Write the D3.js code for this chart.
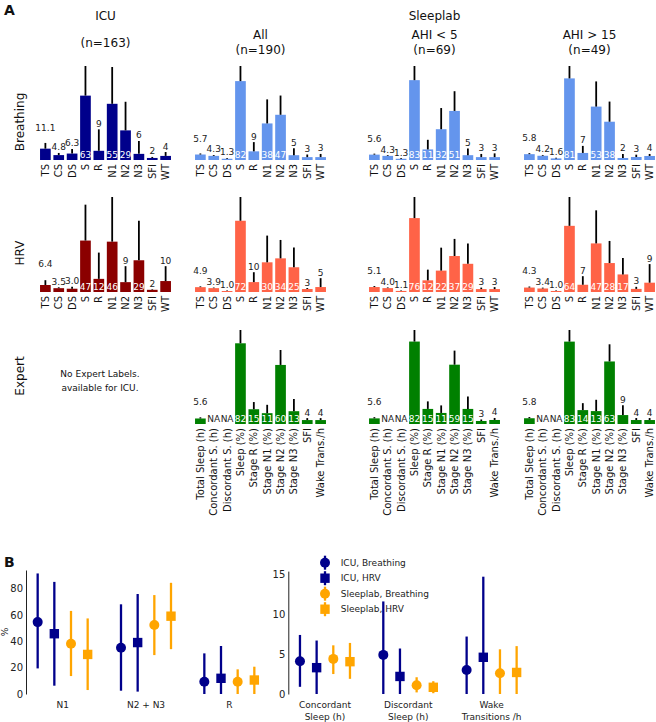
<!DOCTYPE html>
<html><head><meta charset="utf-8">
<script src="https://cdnjs.cloudflare.com/ajax/libs/d3/7.8.5/d3.min.js"></script>
<style>body{margin:0;background:#fff}svg{display:block;font-family:"DejaVu Sans",sans-serif}</style>
</head><body>
<svg id="c" width="656" height="722"></svg>
<script>
// ---------- DATA: Panel A ----------
const catShort = ["TS","CS","DS","S","R","N1","N2","N3","SFI","WT"];
const catExpert = ["Total Sleep (h)","Concordant S. (h)","Discordant S. (h)","Sleep (%)","Stage R (%)","Stage N1 (%)","Stage N2 (%)","Stage N3 (%)","SFI","Wake Trans./h"];
const rowNames = ["Breathing","HRV","Expert"];
const colTitles = ["All\n(n=190)","AHI < 5\n(n=69)","AHI > 15\n(n=49)"];

const icuBreathMean = [11.1,4.8,6.3,63,9,55,29,6,2,4];
const icuBreathStd  = [5.6,2.1,4.5,29,21,36,28,12.6,1,3.8];
const allBreathMean = [5.7,4.3,1.3,82,9,38,47,5,3,3];
const allBreathStd  = [1.1,0.9,0.8,15.7,9.6,25,20,7.3,2.7,3.3];
const ahi5BreathMean = [5.6,4.3,1.3,83,11,32,51,5,3,3];
const ahi5BreathStd  = [1.0,0.8,0.7,14.7,10,22,20.5,7,3.3,3.9];
const ahi15BreathMean = [5.8,4.2,1.6,81,7,53,38,2,3,4];
const ahi15BreathStd  = [1.0,0.8,0.6,12.3,7,25,20,4,2.3,2];

const icuHrvMean = [6.4,3.5,3.0,47,12,46,9,29,2,10];
const icuHrvStd  = [4.4,0.8,1.9,32.8,24,40.8,14.6,36,0.5,13.6];
const allHrvMean = [4.9,3.9,1.0,72,10,30,34,25,3,5];
const allHrvStd  = [0.8,0.6,0.5,24,10,27,18.6,20,1,9];
const ahi5HrvMean = [5.1,4.0,1.1,76,12,22,37,29,3,3];
const ahi5HrvStd  = [1.0,0.7,0.5,21.7,11,23.6,17.6,21,1.5,2];
const ahi15HrvMean = [4.3,3.4,1.0,64,7,47,28,17,3,9];
const ahi15HrvStd  = [1.0,0.8,0.5,27.9,8.3,32,21.4,16,2,18];

const allExpMean = [5.6,NaN,NaN,82,15,11,60,13,4,4];
const allExpStd  = [1.2,NaN,NaN,13.5,7.3,8.5,15.2,12.3,2,2];
const ahi5ExpMean = [5.6,NaN,NaN,82,15,11,59,15,3,4];
const ahi5ExpStd  = [1.2,NaN,NaN,11.5,7.5,7.5,14,12.4,1.5,2];
const ahi15ExpMean = [5.8,NaN,NaN,83,14,13,63,9,4,4];
const ahi15ExpStd  = [1.2,NaN,NaN,11.7,7,11.4,17.3,10,2,2];

// ---------- DATA: Panel B ----------
const seriesB = ["ICU, Breathing","ICU, HRV","Sleeplab, Breathing","Sleeplab, HRV"];
const groupsLeft = ["N1","N2 + N3","R"];
const groupsRight = ["Concordant\nSleep (h)","Discordant\nSleep (h)","Wake\nTransitions /h"];
const leftCenter = [[54.5,35,9.3],[45.7,39,11.9],[38.1,52.3,9.3],[30,59,10.6]];
const leftLow    = [[19.4,2.5,0],[6.3,1.8,0],[13.6,29.5,0],[3,34,0]];
const leftHigh   = [[91.4,68,30.8],[85,75.8,36.4],[63,75,18.7],[57.3,84.3,20.7]];
const rightCenter = [[4.1,4.9,3.0],[3.3,2.2,4.6],[4.4,1.1,2.6],[4.05,0.84,2.7]];
const rightLow    = [[0.9,0,0],[0,0,0],[2.5,0.2,0],[1.9,0.1,0]];
const rightHigh   = [[7.4,11.6,7.2],[6.7,5.7,14.7],[6.1,2.1,5.6],[6.4,1.6,6.0]];
const leftTicks = [0,20,40,60,80];
const rightTicks = [0,5,10,15];

// ---------- DRAW ----------
const svg = d3.select("#c");
svg.append("rect").attr("width",656).attr("height",722).attr("fill","#fff");

const colRanges = [[38.7,172.3],[193.7,327.3],[367.7,501.3],[522.7,656.3]];
const rowRanges = [[160,66],[292,197],[424,330]];
const C_ICU_B="#00008b", C_ICU_H="#8b0000", C_SL_B="#6495ed", C_SL_H="#ff6347", C_EXP="#008000";

const panels = [
  {r:0,c:0,m:icuBreathMean,s:icuBreathStd,col:C_ICU_B},
  {r:0,c:1,m:allBreathMean,s:allBreathStd,col:C_SL_B},
  {r:0,c:2,m:ahi5BreathMean,s:ahi5BreathStd,col:C_SL_B},
  {r:0,c:3,m:ahi15BreathMean,s:ahi15BreathStd,col:C_SL_B},
  {r:1,c:0,m:icuHrvMean,s:icuHrvStd,col:C_ICU_H},
  {r:1,c:1,m:allHrvMean,s:allHrvStd,col:C_SL_H},
  {r:1,c:2,m:ahi5HrvMean,s:ahi5HrvStd,col:C_SL_H},
  {r:1,c:3,m:ahi15HrvMean,s:ahi15HrvStd,col:C_SL_H},
  {r:2,c:1,m:allExpMean,s:allExpStd,col:C_EXP},
  {r:2,c:2,m:ahi5ExpMean,s:ahi5ExpStd,col:C_EXP},
  {r:2,c:3,m:ahi15ExpMean,s:ahi15ExpStd,col:C_EXP}
];

panels.forEach(p=>{
  const idx = d3.range(p.m.length);
  const x = d3.scaleBand().domain(idx).range(colRanges[p.c]).paddingInner(0.2).paddingOuter(0.1);
  const maxW = d3.max(idx, i=> isNaN(p.m[i]) ? 0 : p.m[i]+p.s[i]);
  const y = d3.scaleLinear().domain([0,maxW]).range(rowRanges[p.r]);
  const g = svg.append("g");
  const valid = idx.filter(i=>!isNaN(p.m[i]));
  g.selectAll("rect.bar").data(valid).join("rect")
    .attr("x",i=>x(i)).attr("width",x.bandwidth())
    .attr("y",i=>y(p.m[i])).attr("height",i=>y(0)-y(p.m[i]))
    .attr("fill",p.col);
  g.selectAll("line.err").data(valid).join("line")
    .attr("x1",i=>x(i)+x.bandwidth()/2).attr("x2",i=>x(i)+x.bandwidth()/2)
    .attr("y1",i=>y(p.m[i])).attr("y2",i=>y(p.m[i]+p.s[i]))
    .attr("stroke","#000").attr("stroke-width",1.8);
  // value labels
  idx.forEach(i=>{
    const v = p.m[i];
    const cx = x(i)+x.bandwidth()/2;
    let txt, ty, fill="#222";
    if (isNaN(v)) { txt="NA"; ty=y(0)-2.5; }
    else {
      txt = i<3 ? v.toFixed(1) : String(Math.round(v));
      if (i>=3 && v>10) { ty=y(0)-2.5; fill="#fff"; }
      else {
        ty = y(v+p.s[i]) - 2.5;
        if (i===0) ty = y(v+p.s[i]+12);
      }
    }
    g.append("text").attr("x",cx).attr("y",ty).attr("text-anchor","middle")
      .attr("font-size",9).attr("fill",fill).text(txt);
  });
  // category labels
  const cats = p.r===2 ? catExpert : catShort;
  const ax = g.append("g").attr("transform",`translate(0,${rowRanges[p.r][0]})`)
    .call(d3.axisBottom(x).tickSize(0).tickFormat(i=>cats[i]));
  ax.select(".domain").remove();
  ax.selectAll("text").attr("transform","rotate(-90)").attr("x",-4).attr("y",0)
    .attr("dy","0.35em").style("text-anchor","end").attr("font-size",10)
    .attr("font-family","DejaVu Sans").attr("fill","#111");
});

// titles
const T = (x,y,t,fs,opts={})=>svg.append("text").attr("x",x).attr("y",y).attr("text-anchor",opts.anchor||"middle")
  .attr("font-size",fs).attr("font-weight",opts.bold?"bold":"normal").attr("fill","#111").text(t);
T(4,15,"A",14,{bold:true,anchor:"start"});
T(105.5,20,"ICU",12);
T(105.5,47,"(n=163)",12);
T(434.5,20,"Sleeplab",12);
colTitles.forEach((t,k)=>{
  const cx=(colRanges[k+1][0]+colRanges[k+1][1])/2;
  const lines=t.split("\n");
  T(cx,39,lines[0],12); T(cx,54,lines[1],12);
});
const rowYs=[122,253,376];
rowNames.forEach((n,k)=>{
  svg.append("text").attr("transform",`translate(20,${rowYs[k]}) rotate(-90)`).attr("text-anchor","middle")
    .attr("dy","0.35em").attr("font-size",12).attr("fill","#111").text(n);
});
T(100,377,"No Expert Labels.",9);
T(100,391,"available for ICU.",9);

// ---------- Panel B ----------
T(4,567,"B",14,{bold:true,anchor:"start"});
const colorsB=[C_ICU_B,C_ICU_B,"#ffa500","#ffa500"];
const shapesB=["circle","square","circle","square"];
function drawMarker(g,shape,cx,cy,col){
  if(shape==="circle") g.append("circle").attr("cx",cx).attr("cy",cy).attr("r",5).attr("fill",col);
  else g.append("rect").attr("x",cx-4.7).attr("y",cy-4.7).attr("width",9.4).attr("height",9.4).attr("fill",col);
}
function panelB(x0, yMax, ticks, groups, cen, lo, hi){
  const x = d3.scaleLinear().domain([-0.44,2.5]).range([x0,x0+245]);
  const y = d3.scaleLinear().domain([0,yMax]).range([694,694-yMax*(yMax>50?1.319:7.98)]);
  const g = svg.append("g");
  const ax = g.append("g").attr("transform",`translate(${x0},0)`)
    .call(d3.axisLeft(y).tickValues(ticks).tickSize(0).tickSizeOuter(0).tickPadding(3));
  ax.select(".domain").attr("stroke","#222").attr("stroke-width",1);
  ax.selectAll("text").attr("font-size",10).attr("font-family","DejaVu Sans").attr("fill","#222");
  seriesB.forEach((s,j)=>{
    groups.forEach((gn,i)=>{
      const cx = x(i+(j-1.5)*0.2);
      g.append("line").attr("x1",cx).attr("x2",cx).attr("y1",y(lo[j][i])).attr("y2",y(hi[j][i]))
        .attr("stroke",colorsB[j]).attr("stroke-width",2.3);
      drawMarker(g,shapesB[j],cx,y(cen[j][i]),colorsB[j]);
    });
  });
  groups.forEach((gn,i)=>{
    gn.split("\n").forEach((ln,k)=>{
      g.append("text").attr("x",x(i)).attr("y",708+k*12).attr("text-anchor","middle")
        .attr("font-size",9).attr("fill","#222").text(ln);
    });
  });
  return y;
}
panelB(26,94,leftTicks,groupsLeft,leftCenter,leftLow,leftHigh);
panelB(288.3,15.4,rightTicks,groupsRight,rightCenter,rightLow,rightHigh);
svg.append("text").attr("transform","translate(8,632) rotate(-90)").attr("text-anchor","middle")
  .attr("font-size",9).attr("fill","#222").text("%");

// legend
const lg = svg.append("g");
seriesB.forEach((s,j)=>{
  const ly = 562.7 + j*15.5;
  lg.append("line").attr("x1",325).attr("x2",325).attr("y1",ly-7).attr("y2",ly+7)
    .attr("stroke",colorsB[j]).attr("stroke-width",2.3);
  drawMarker(lg,shapesB[j],325,ly,colorsB[j]);
  lg.append("text").attr("x",340.7).attr("y",ly).attr("dy","0.35em").attr("font-size",9)
    .attr("fill","#222").text(s);
});
</script>
</body></html>
